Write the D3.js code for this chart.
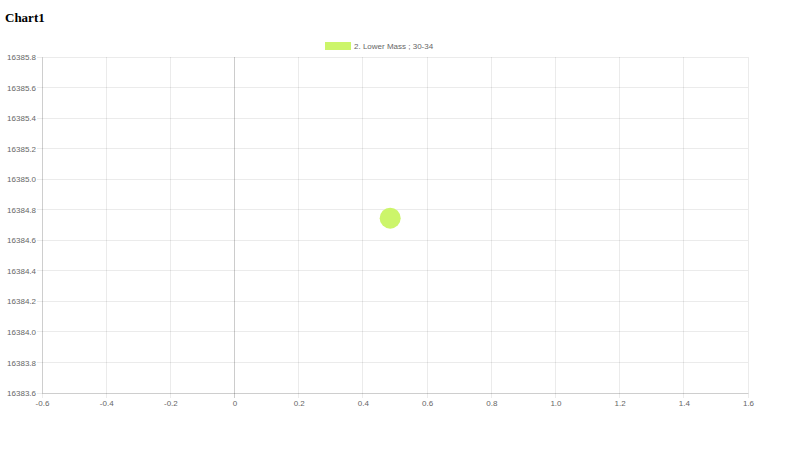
<!DOCTYPE html>
<html lang="en">
<head>
  <meta charset="UTF-8">
  <title>Chart1</title>
  <script src="https://d3js.org/d3.v7.min.js"></script>
  <style>
    body { margin: 0; background: #fff; }
    svg { display: block; }
    .tick text { font-family: 'Liberation Sans', Arial, sans-serif; font-size: 8px; fill: #666; }
  </style>
</head>
<body>
  <svg width="800" height="450"></svg>
  <script>
    // data
    const seriesNames = ["2. Lower Mass ; 30-34"];
    const xValues = [0.485];
    const yValues = [16384.745];
    const xTicks = [-0.6, -0.4, -0.2, 0, 0.2, 0.4, 0.6, 0.8, 1.0, 1.2, 1.4, 1.6];
    const yTicks = [16383.6, 16383.8, 16384.0, 16384.2, 16384.4, 16384.6, 16384.8, 16385.0, 16385.2, 16385.4, 16385.6, 16385.8];

    const color = "#ccf56a";
    const svg = d3.select("svg");
    const plotLeft = 42, plotRight = 748, plotTop = 57, plotBottom = 393;

    const x = d3.scaleLinear().domain([-0.6, 1.6]).range([plotLeft, plotRight]);
    const y = d3.scaleLinear().domain([16383.6, 16385.8]).range([plotBottom, plotTop]);
    const fmt = d => d === 0 ? "0" : d3.format(".1f")(d).replace("−", "-");

    svg.append("text")
      .attr("x", 5).attr("y", 22)
      .attr("font-family", "'Liberation Serif', 'Times New Roman', serif")
      .attr("font-weight", "bold").attr("font-size", 13)
      .attr("fill", "#000")
      .text("Chart1");

    // gridlines
    svg.append("g").selectAll("line").data(xTicks).enter().append("line")
      .attr("x1", d => x(d)).attr("x2", d => x(d))
      .attr("y1", plotTop).attr("y2", plotBottom + 5)
      .attr("stroke", d => d === 0 ? "rgba(0,0,0,0.2)" : "rgba(0,0,0,0.08)")
      .attr("shape-rendering", "crispEdges");
    svg.append("g").selectAll("line").data(yTicks).enter().append("line")
      .attr("x1", plotLeft - 5).attr("x2", plotRight)
      .attr("y1", d => y(d)).attr("y2", d => y(d))
      .attr("stroke", "rgba(0,0,0,0.08)")
      .attr("shape-rendering", "crispEdges");

    // axes (labels only, grid drawn above)
    const xAxis = svg.append("g").attr("transform", `translate(0,${plotBottom})`)
      .call(d3.axisBottom(x).tickValues(xTicks).tickSize(0).tickPadding(7).tickFormat(fmt));
    const yAxis = svg.append("g").attr("transform", `translate(${plotLeft},0)`)
      .call(d3.axisLeft(y).tickValues(yTicks).tickSize(0).tickPadding(6).tickFormat(fmt));
    xAxis.select(".domain").attr("stroke", "rgba(0,0,0,0.12)");
    yAxis.select(".domain").attr("stroke", "rgba(0,0,0,0.12)");

    // legend
    const legend = svg.append("g");
    legend.append("rect")
      .attr("x", 325).attr("y", 42).attr("width", 26).attr("height", 8)
      .attr("fill", color);
    legend.append("text")
      .attr("x", 354).attr("y", 49)
      .attr("font-family", "'Liberation Sans', Arial, sans-serif")
      .attr("font-size", 8).attr("fill", "#666")
      .text(seriesNames[0]);

    // points
    svg.append("g").selectAll("circle").data(xValues).enter().append("circle")
      .attr("cx", (d, i) => x(d))
      .attr("cy", (d, i) => y(yValues[i]))
      .attr("r", 10.5)
      .attr("fill", color);
  </script>
</body>
</html>
